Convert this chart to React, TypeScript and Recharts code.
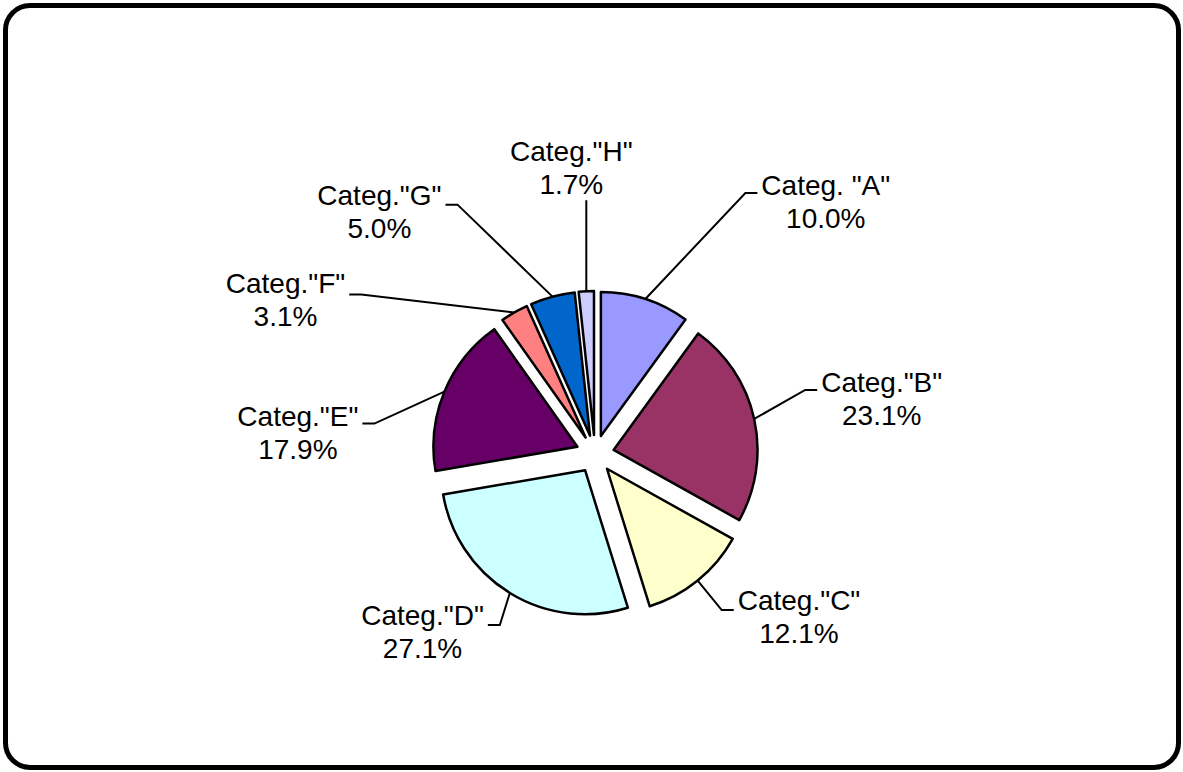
import React from 'react';
import { PieChart, Pie, Sector } from 'recharts';

// ---- data ----
const categories = ['Categ. "A"', 'Categ."B"', 'Categ."C"', 'Categ."D"', 'Categ."E"', 'Categ."F"', 'Categ."G"', 'Categ."H"'];
const shares = [10.0, 23.1, 12.1, 27.1, 17.9, 3.1, 5.0, 1.7];
const colors = ['#9999FF', '#993366', '#FFFFCC', '#CCFFFF', '#660066', '#FF8080', '#0066CC', '#CCCCFF'];

// ---- label layout (leader elbow offsets from each slice's arc midpoint) ----
const labelLayout = [
  { dx: 100, dy: -106, side: 'right', ty: 2 },
  { dx: 51, dy: -29, side: 'right', ty: 2 },
  { dx: 24, dy: 29.5, side: 'right', ty: 0 },
  { dx: -10, dy: 32, side: 'left', ty: 0 },
  { dx: -70, dy: 32, side: 'left', ty: 2 },
  { dx: -153, dy: -18, side: 'left', ty: -1 },
  { dx: -95, dy: -92, side: 'left', ty: 0 },
  { dx: 0, dy: -91, side: 'up', ty: 0 },
];

const data = categories.map((name, i) => ({ name, value: shares[i] }));

const RAD = Math.PI / 180;
const EXPLODE = 19;
const FONT_SIZE = 28;
const LINE_GAP = 33;
const TAIL = 12;
const FONT = '"Liberation Sans", Arial, sans-serif';

let ctx: CanvasRenderingContext2D | null = null;
function textWidth(s: string): number {
  try {
    if (!ctx) ctx = document.createElement('canvas').getContext('2d');
    if (ctx) {
      ctx.font = `${FONT_SIZE}px "Liberation Sans", Arial, sans-serif`;
      return ctx.measureText(s).width;
    }
  } catch (e) {}
  return s.length * FONT_SIZE * 0.5;
}

const renderSliceAndLabel = (props: any) => {
  const { cx, cy, midAngle, startAngle, endAngle, outerRadius, index, percent } = props;
  const cos = Math.cos(-midAngle * RAD);
  const sin = Math.sin(-midAngle * RAD);
  const scx = cx + EXPLODE * cos;
  const scy = cy + EXPLODE * sin;
  const ax = scx + outerRadius * cos;
  const ay = scy + outerRadius * sin;
  const lay = labelLayout[index];
  const ex = ax + lay.dx;
  const ey = ay + lay.dy;
  const line1 = categories[index];
  const line2 = `${(percent * 100).toFixed(1)}%`;
  const w1 = textWidth(line1);

  let path = `M${ax},${ay} L${ex},${ey}`;
  let tx = ex;
  let ty1 = ey;
  if (lay.side === 'right') {
    path += ` L${ex + TAIL},${ey}`;
    tx = ex + TAIL + 4 + w1 / 2;
    ty1 = ey + lay.ty;
  } else if (lay.side === 'left') {
    path += ` L${ex - TAIL},${ey}`;
    tx = ex - TAIL - 4 - w1 / 2;
    ty1 = ey + lay.ty;
  } else {
    tx = ex - 15;
    ty1 = ey - 6 - LINE_GAP;
  }

  return (
    <g key={`sl-${index}`}>
      <Sector
        cx={scx}
        cy={scy}
        innerRadius={0}
        outerRadius={outerRadius}
        startAngle={startAngle}
        endAngle={endAngle}
        fill={colors[index]}
        stroke="#000"
        strokeWidth={2.5}
        strokeLinejoin="round"
      />
      <path d={path} fill="none" stroke="#000" strokeWidth={2} />
      <text x={tx} y={ty1} textAnchor="middle" fontFamily={FONT} fontSize={FONT_SIZE} fill="#000">
        {line1}
      </text>
      <text x={tx} y={ty1 + LINE_GAP} textAnchor="middle" fontFamily={FONT} fontSize={FONT_SIZE} fill="#000">
        {line2}
      </text>
    </g>
  );
};

export default function App() {
  return (
    <div style={{ position: 'absolute', left: 0, top: 0, width: 1183, height: 772, background: '#fff', overflow: 'hidden' }}>
      <div
        style={{
          position: 'absolute',
          left: 3,
          top: 3,
          width: 1178,
          height: 767,
          boxSizing: 'border-box',
          border: '5px solid #000',
          borderRadius: 27,
        }}
      />
      <div style={{ position: 'absolute', left: 0, top: 0 }}>
        <PieChart width={1183} height={772} margin={{ top: 0, right: 0, bottom: 0, left: 0 }}>
          <Pie
            data={data}
            dataKey="value"
            nameKey="name"
            cx={595}
            cy={454}
            innerRadius={0}
            outerRadius={144}
            startAngle={90}
            endAngle={-270}
            fill="none"
            stroke="none"
            isAnimationActive={false}
            labelLine={false}
            label={renderSliceAndLabel}
          />
        </PieChart>
      </div>
    </div>
  );
}
